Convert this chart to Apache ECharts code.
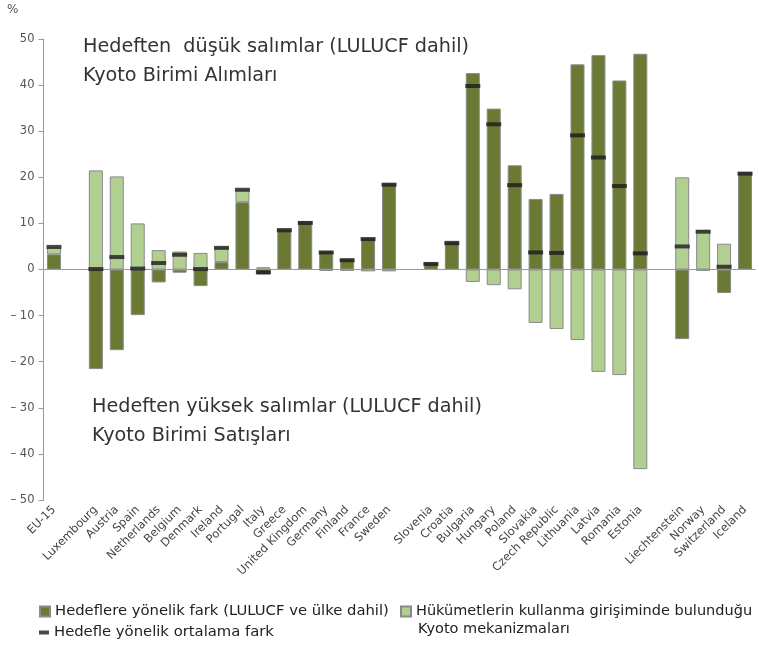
<!DOCTYPE html>
<html>
<head>
<meta charset="utf-8">
<script src="https://cdn.jsdelivr.net/npm/echarts@6/dist/echarts.min.js"></script>
<style>html,body{margin:0;padding:0;background:#fff;}#c{width:759px;height:646px;}</style>
</head>
<body>
<div id="c"></div>
<script>
const categories = ['EU-15','', 'Luxembourg','Austria','Spain','Netherlands','Belgium','Denmark','Ireland','Portugal','Italy','Greece','United Kingdom','Germany','Finland','France','Sweden','', 'Slovenia','Croatia','Bulgaria','Hungary','Poland','Slovakia','Czech Republic','Lithuania','Latvia','Romania','Estonia','', 'Liechtenstein','Norway','Switzerland','Iceland'];
const gapValues = [3.3,null,-21.6,-17.5,-9.9,-2.8,-0.7,-3.6,1.6,14.6,-1.1,8.8,10.4,4.0,2.4,6.9,18.7,null,1.4,6.1,42.6,34.9,22.6,15.3,16.4,44.5,46.5,41.0,46.8,null,-15.1,-0.3,-5.1,21.0];
const kyotoValues = [1.5,null,21.5,20.2,10.0,4.2,3.9,3.6,3.2,2.7,0.5,0,0,-0.3,-0.3,-0.4,-0.4,null,0,0,-2.7,-3.4,-4.3,-11.6,-12.9,-15.3,-22.2,-22.9,-43.3,null,20.0,8.5,5.6,0];
const averageGap = [4.9,null,0.1,2.7,0.2,1.4,3.2,0.1,4.7,17.3,-0.6,8.5,10.1,3.7,2.0,6.6,18.4,null,1.2,5.7,39.8,31.5,18.3,3.7,3.6,29.1,24.3,18.1,3.5,null,5.0,8.2,0.6,20.8];
const yTicks = [-50,-40,-30,-20,-10,0,10,20,30,40,50];

const nameGap = 'Hedeflere yönelik fark (LULUCF ve ülke dahil)';
const nameKyoto = 'Hükümetlerin kullanma girişiminde bulunduğu';
const nameAvg = 'Hedefle yönelik ortalama fark';
const FONT = 'DejaVu Sans';

const chart = echarts.init(document.getElementById('c'), null, {renderer: 'canvas'});
chart.setOption({
  animation: false,
  backgroundColor: '#ffffff',
  grid: {left: 43.5, right: 3.5, top: 39, bottom: 146},
  legend: [
    {data: [nameGap], left: 39, top: 604, padding: 0, icon: 'rect', itemWidth: 10, itemHeight: 10, itemGap: 6,
     textStyle: {fontFamily: FONT, fontSize: 14.8, color: '#222'}},
    {data: [nameAvg], left: 39, top: 625, padding: 0, icon: 'rect', itemWidth: 10, itemHeight: 4,
     textStyle: {fontFamily: FONT, fontSize: 14.8, color: '#222'}},
    {data: [nameKyoto], left: 400, top: 604, padding: 0, icon: 'rect', itemWidth: 10, itemHeight: 10,
     textStyle: {fontFamily: FONT, fontSize: 14.5, color: '#222'}}
  ],
  graphic: [
    {type: 'text', left: 7, top: 4, style: {text: '%', font: '12px ' + FONT, fill: '#555'}},
    {type: 'text', left: 83, top: 33, style: {text: 'Hedeften  düşük salımlar (LULUCF dahil)\nKyoto Birimi Alımları', font: '19.2px ' + FONT, fill: '#333', lineHeight: 29}},
    {type: 'text', left: 92, top: 393, style: {text: 'Hedeften yüksek salımlar (LULUCF dahil)\nKyoto Birimi Satışları', font: '19.2px ' + FONT, fill: '#333', lineHeight: 29}},
    {type: 'text', left: 418, top: 622, style: {text: 'Kyoto mekanizmaları', font: '14.5px ' + FONT, fill: '#222'}}
  ],
  xAxis: {
    type: 'category', data: categories,
    axisLine: {show: false}, axisTick: {show: false},
    axisLabel: {interval: 0, rotate: 45, fontFamily: FONT, fontSize: 11.5, color: '#444', margin: 8}
  },
  yAxis: {
    type: 'value', min: -50, max: 50, interval: 10,
    axisLine: {show: true, lineStyle: {color: '#999'}},
    axisTick: {show: true, length: 5, lineStyle: {color: '#999'}},
    splitLine: {show: false},
    axisLabel: {fontFamily: FONT, fontSize: 11.5, color: '#555', margin: 9,
      formatter: v => v < 0 ? '– ' + Math.abs(v) : String(v)}
  },
  series: [
    {name: nameGap, type: 'bar', stack: 'g', data: gapValues, barWidth: 14,
     itemStyle: {color: '#6b7a32', borderColor: '#8a8a8a', borderWidth: 1},
     markLine: {silent: true, symbol: 'none', label: {show: false},
       lineStyle: {color: '#999', width: 1, type: 'solid'}, data: [{yAxis: 0}]}},
    {name: nameKyoto, type: 'bar', stack: 'g', data: kyotoValues, barWidth: 14,
     itemStyle: {color: '#b2cf92', borderColor: '#8a8a8a', borderWidth: 1}},
    {name: nameAvg, type: 'scatter', data: averageGap, symbol: 'rect', symbolSize: [15, 4], z: 5,
     itemStyle: {color: '#1c1c1c'}}
  ]
});
</script>
</body>
</html>
